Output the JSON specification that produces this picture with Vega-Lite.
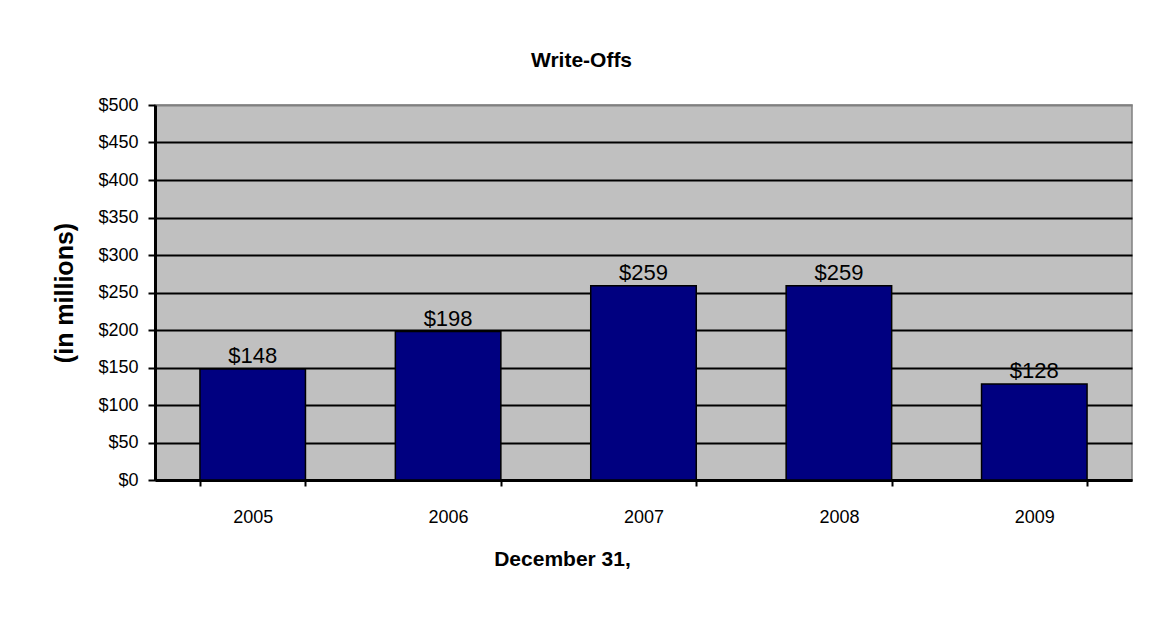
{
  "$schema": "https://vega.github.io/schema/vega-lite/v6.json",
  "autosize": {"type": "none"},
  "padding": {"left": 155, "top": 105, "right": 30, "bottom": 157},
  "width": 977,
  "height": 375,
  "background": "white",
  "title": {
    "text": "Write-Offs",
    "font": "Liberation Sans",
    "fontSize": 21,
    "fontWeight": "bold",
    "color": "black",
    "frame": "group",
    "anchor": "middle",
    "dx": -62,
    "offset": 25
  },
  "data": {
    "values": [
      {"year": "2005", "value": 148},
      {"year": "2006", "value": 198},
      {"year": "2007", "value": 259},
      {"year": "2008", "value": 259},
      {"year": "2009", "value": 128}
    ]
  },
  "encoding": {
    "x": {
      "field": "year",
      "type": "nominal",
      "scale": {"paddingInner": 0.46, "paddingOuter": 0.23},
      "axis": {
        "title": "December 31,",
        "labelAngle": 0,
        "labelFont": "Liberation Sans",
        "labelFontSize": 18,
        "labelColor": "black",
        "labelPadding": 22,
        "tickBand": "extent",
        "tickSize": 6,
        "tickColor": "black",
        "tickWidth": 2,
        "domainColor": "black",
        "domainWidth": 3,
        "titleFont": "Liberation Sans",
        "titleFontSize": 21,
        "titleFontWeight": "bold",
        "titleColor": "black",
        "titleX": 407,
        "titleY": 85,
        "titleBaseline": "alphabetic",
        "titleAlign": "center"
      }
    },
    "y": {
      "field": "value",
      "type": "quantitative",
      "scale": {"domain": [0, 500], "nice": false},
      "axis": {
        "title": "(in millions)",
        "values": [0, 50, 100, 150, 200, 250, 300, 350, 400, 450, 500],
        "format": "$d",
        "labelFont": "Liberation Sans",
        "labelFontSize": 18,
        "labelColor": "black",
        "labelPadding": 10,
        "tickSize": 7,
        "tickColor": "black",
        "tickWidth": 2,
        "domainColor": "black",
        "domainWidth": 3,
        "grid": true,
        "gridColor": {"condition": {"test": "datum.value === 500", "value": "#808080"}, "value": "black"},
        "gridWidth": 2,
        "gridOpacity": 1,
        "titleFont": "Liberation Sans",
        "titleFontSize": 25,
        "titleFontWeight": "bold",
        "titleColor": "black",
        "titleAngle": 270,
        "titleX": -91,
        "titleY": 187.5,
        "titleAlign": "center",
        "titleBaseline": "middle"
      }
    }
  },
  "layer": [
    {
      "mark": {"type": "bar", "color": "#000080", "stroke": "black", "strokeWidth": 1.5}
    },
    {
      "mark": {"type": "text", "baseline": "bottom", "dy": -1, "font": "Liberation Sans", "fontSize": 22, "color": "black"},
      "encoding": {
        "text": {"field": "value", "type": "quantitative", "format": "$d"}
      }
    }
  ],
  "config": {
    "view": {"fill": "#C0C0C0", "stroke": "#808080", "strokeWidth": 1.5}
  }
}
